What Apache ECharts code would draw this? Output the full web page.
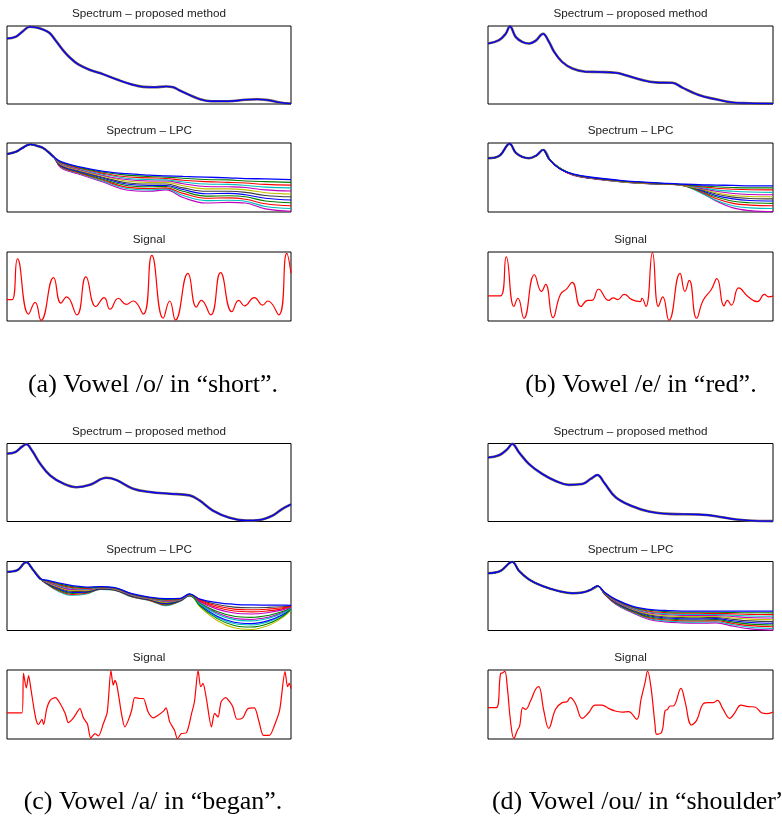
<!DOCTYPE html>
<html><head><meta charset="utf-8">
<script src="https://cdn.jsdelivr.net/npm/echarts@6/dist/echarts.min.js"></script>
<style>html,body{margin:0;padding:0;background:#fff}#c{width:782px;height:819px}</style>
</head><body><div id="c"></div>
<script>
// ---------- captions & titles ----------
const captions = ['(a) Vowel /o/ in \u201cshort\u201d.', '(b) Vowel /e/ in \u201cred\u201d.', '(c) Vowel /a/ in \u201cbegan\u201d.', '(d) Vowel /ou/ in \u201cshoulder\u201d.'];
const subTitles = ['Spectrum \u2013 proposed method', 'Spectrum \u2013 LPC', 'Signal'];

// ---------- (a) ----------
const aPropX = [0, 3, 5.5, 8, 10.5, 13, 15, 17, 19.5, 22, 25, 29, 34, 39, 44, 48, 52, 56, 58.5, 61, 64, 68, 72, 78, 84, 88, 92, 96, 100];
const aPropY = [84, 86, 93, 99, 98, 95, 91, 82, 70, 60, 51, 44, 38, 31, 25, 22, 21.5, 22.5, 21.5, 17, 12, 6, 3.5, 3.5, 5.5, 6, 5, 2, 0.5];
const aLpcHeadX = [0, 3, 5.5, 8.2, 10.5, 13, 16.4];
const aLpcHeadY = [84, 87, 93, 98, 96, 92, 80];
const aLpcTailX = [19, 26, 34, 42, 50, 56, 62, 70, 78, 84, 91, 100];
const aLpcTails = [
  [73, 65, 59, 55.5, 53.5, 52.5, 51.5, 50.5, 49.5, 48.5, 48, 47],
  [72, 64, 57.5, 53.5, 51.5, 50.5, 49, 47, 46.5, 45, 44, 43],
  [71.5, 63, 56, 51, 49.5, 48.5, 46, 44, 43, 42, 40, 39],
  [70.5, 62, 54.5, 49, 47, 46.5, 43.5, 40.5, 40, 38.5, 36, 35],
  [70, 61, 53, 47, 45, 45, 41, 37, 36.5, 35.5, 32, 30.5],
  [69, 60, 52, 45, 43, 43, 38, 33.5, 33.5, 32, 28, 26],
  [68, 59, 50, 42.5, 40.5, 40.5, 35, 30, 30, 28.5, 24, 22],
  [67, 58, 49, 40.5, 38.5, 38.5, 32.5, 26.5, 27, 25, 20, 17.5],
  [66.5, 57, 47, 38.5, 36.5, 37, 30, 23, 23.5, 22, 16, 13.5],
  [65.5, 56, 46, 36, 34, 35, 27, 20, 20.5, 18.5, 12, 9],
  [65, 55, 44.5, 34, 32, 33.5, 24, 16.5, 17, 15.5, 8, 5],
  [64, 54, 43, 32, 30, 32, 21, 13, 14, 13, 4.5, 1]
];
const aSigX = [0, 1.8, 3.7, 7.6, 9.9, 12, 16.4, 19, 21, 24.6, 27.8, 31.3, 34.2, 36.3, 39.2, 42, 44.4, 48, 51, 55, 57.3, 59.3, 63.7, 66.7, 68.4, 71.7, 75.2, 79.2, 81.6, 83.6, 87.1, 90, 91.8, 95.7, 98.5, 100];
const aSigY = [31, 31, 90, 10, 27, 1, 63, 26, 35, 9, 64, 21, 34, 17, 33, 24, 29, 10, 95, 4, 29, 1.5, 69, 20, 30, 9, 70, 13.5, 30, 22, 34, 23, 29, 9, 98, 69];

// ---------- (b) ----------
const bPropX = [0, 3.9, 6.2, 7.7, 9.7, 12, 14.4, 16.7, 19.3, 21.4, 23.2, 26, 29.6, 34.3, 39, 44.8, 48.3, 54.2, 58.8, 64.7, 68.2, 74, 80, 85.7, 91.6, 100];
const bPropY = [77.5, 82, 90, 99.5, 86, 79.6, 77.5, 81, 90, 79.6, 67, 54, 45.5, 41.3, 41, 40, 37, 30.6, 27.7, 27.2, 21, 11.5, 6, 2, 1, 0.5];
const bLpcHeadX = [0, 4, 7.6, 9.7, 12, 14.4, 17, 19.3, 21.4];
const bLpcHeadY = [78, 81.5, 99, 86, 80, 78, 82, 90, 77];
const bLpcTailX = [25, 30, 37, 47, 56, 63, 68, 74, 80, 86, 92, 100];
const bLpcTails = [
  [63, 55, 50, 45.5, 43, 41.5, 40.5, 39.5, 39, 38.5, 38, 38],
  [64, 54.5, 49.5, 45, 42.5, 41, 40, 38, 36.5, 35.5, 35, 35],
  [63.5, 54, 49, 44.5, 42, 40.5, 39.5, 37, 34.5, 33, 32.2, 32],
  [64, 54, 49, 44.5, 42, 40.5, 39.5, 36, 32, 30, 29, 28.5],
  [63.5, 54.5, 49.5, 45, 42.5, 41, 39.5, 35, 30, 26.7, 25.4, 25],
  [64, 54, 49, 44, 41.5, 40.5, 39, 34, 28, 24, 22.5, 22],
  [64.5, 54, 48.5, 44, 41.5, 40, 39.5, 33.5, 26, 21.5, 19.6, 19],
  [63.5, 53.5, 48.5, 44, 41.5, 40, 39.5, 32.5, 24, 19, 16.7, 16],
  [64, 54, 49, 44.5, 42, 40.5, 39, 31.5, 22, 15.5, 13.3, 12.5],
  [63.5, 53.5, 48.5, 44, 41.5, 40, 39, 30.5, 19.5, 12.5, 10, 9],
  [64, 53.5, 48.5, 43.5, 41, 40, 39, 29, 17, 9, 6, 5],
  [64, 53, 48, 43.5, 41, 40, 38.5, 30, 16, 6, 2, 0.5]
];
const bSigX = [0, 4.4, 6.4, 9.1, 10.5, 12.6, 16.3, 18.8, 20.2, 22.8, 25.4, 27.7, 29.5, 32.6, 35, 36.5, 38.8, 42.3, 44, 45.5, 47.8, 50.5, 53.4, 54, 55.4, 57.7, 59.8, 61.3, 63.5, 67.4, 69.1, 70.6, 73.2, 75.5, 78.4, 80.3, 82.8, 84, 85.4, 88, 91.3, 94.5, 97, 98.5, 100];
const bSigY = [36.5, 36.5, 93, 21, 33, 4, 67, 43, 53, 5, 38.5, 47, 56, 21, 30, 30, 46, 30, 33.5, 31, 38.5, 31, 28, 33, 21, 99, 21, 35, 1, 69, 43, 59, 4, 30, 46, 61.5, 22, 30, 23, 48, 35, 28, 38.5, 35, 36];

// ---------- (c) ----------
const cPropX = [0, 2.9, 5.3, 6.8, 8.8, 11.7, 15.2, 19.9, 24.6, 29.2, 35, 38.6, 44.4, 50.3, 57.3, 64.3, 67.8, 72.5, 78.4, 84.2, 88.9, 93.6, 97, 100];
const cPropY = [87, 89, 96, 99, 91, 74, 59, 48.5, 44, 47, 56, 53, 42, 37.8, 35.6, 33.5, 27, 14, 4.7, 1.3, 2, 7.7, 16.3, 22];
const cLpcHeadX = [0, 3.5, 6.8, 8.8, 11.7];
const cLpcHeadY = [85, 87, 99, 90, 75];
const cLpcTailX = [14, 18, 23, 28, 33, 38, 44, 50, 56, 61, 64.3, 68, 74, 80, 86, 92, 97, 100];
const cLpcTails = [
  [73, 69, 65, 63, 63.5, 62, 53.5, 48.5, 46, 46.5, 53, 45.5, 40.5, 38, 37, 36.8, 36.7, 36.5],
  [72.4, 67.8, 63.6, 62, 63.1, 61.6, 53, 48, 45, 46.1, 52.7, 35.2, 17.2, 7.3, 5, 10.1, 20.4, 30.6],
  [71.8, 66.6, 62.2, 61, 62.7, 61.2, 52.5, 47.5, 44, 45.7, 52.4, 43.4, 35.4, 31, 30, 31, 32.9, 34.8],
  [71.2, 65.4, 60.8, 60, 62.3, 60.8, 52, 47, 43, 45.3, 52.1, 38.1, 23.7, 15.8, 14, 17.6, 24.9, 32.1],
  [70.6, 64.2, 59.4, 59, 61.9, 60.4, 51.5, 46.5, 42, 44.9, 51.8, 41.4, 31, 25.3, 24, 26, 29.9, 33.8],
  [70, 63, 58, 58, 61.5, 60, 51, 46, 41, 44.5, 51.5, 34, 14.6, 3.9, 1.5, 7.2, 18.6, 30],
  [69.4, 61.8, 56.6, 57, 61.1, 59.6, 50.5, 45.5, 40, 44.1, 51.2, 44.4, 37.6, 33.9, 33, 33.5, 34.4, 35.3],
  [68.8, 60.6, 55.2, 56, 60.7, 59.2, 50, 45, 39, 43.7, 50.9, 36.8, 20.8, 12, 10, 14.3, 22.8, 31.4],
  [68.2, 59.4, 53.8, 55, 60.3, 58.8, 49.5, 44.5, 38, 43.3, 50.6, 39.8, 27.4, 20.6, 19, 21.8, 27.4, 33],
  [67.6, 58.2, 52.4, 54, 59.9, 58.4, 49, 44, 37, 42.9, 50.3, 42.4, 33.2, 28.2, 27, 28.5, 31.4, 34.3],
  [67, 57, 51, 53, 59.5, 58, 48.5, 43.5, 36, 42.5, 50, 36.1, 19.3, 10.1, 8, 12.6, 21.9, 31.1],
  [70.3, 63.6, 58.7, 58.5, 61.7, 60.2, 51.3, 46.3, 41.5, 44.7, 51.7, 38.8, 25.2, 17.7, 16, 19.3, 25.9, 32.5]
];
const cSigX = [0, 5.3, 5.8, 6.8, 7.6, 8.4, 9.4, 10.3, 11.1, 12.3, 12.9, 14, 15.2, 17, 18.7, 20.5, 21.6, 23.4, 25.7, 26.9, 28.3, 29.5, 31, 32.2, 33.9, 35.3, 36.6, 37.4, 38, 38.8, 40.4, 41.5, 42.7, 43.9, 45, 46.8, 48, 49.7, 51.5, 53.2, 55, 56, 57.3, 59, 60, 61.4, 63.2, 65, 66, 67.3, 68.2, 69, 70.2, 72, 73.1, 74.3, 75.4, 77, 78.4, 79.5, 81, 83, 84.8, 87.1, 88.7, 90.3, 92.4, 94.2, 96, 97.9, 98.8, 99.4, 100];
const cSigY = [38, 38, 95, 74, 92, 73, 46.6, 27, 21, 28.6, 21, 44, 56, 60, 51.5, 37, 23.8, 30.6, 44, 30.6, 22, 1.5, 7.8, 4.4, 22, 39, 99, 78, 85, 75.7, 34.5, 17.5, 27, 41.7, 60, 58.7, 58.7, 39, 30.6, 34.5, 40, 45, 24.8, 12.6, 0.5, 7.8, 9, 37, 54, 99, 75.7, 80.6, 58.7, 17.5, 37, 32, 54, 60, 54, 46.6, 28.6, 30.6, 44, 45, 25.7, 5.3, 5.3, 20, 41.7, 97.6, 75.7, 80.6, 73];

// ---------- (d) ----------
const dPropX = [0, 3.9, 6.8, 8.5, 10.9, 14.4, 19, 23.7, 28.4, 33, 36, 38.4, 40.7, 44.8, 50.6, 56.5, 63.5, 74, 80, 87, 95, 100];
const dPropY = [82, 85, 92.8, 99.5, 88.5, 73.6, 61, 52, 47, 48, 54.5, 59.6, 50, 31, 19.6, 12.8, 9.8, 9, 6.8, 2.6, 0.6, 0.5];
const dLpcHeadX = [0, 4.4, 8.5, 10.9, 14.4, 19, 24.9, 29.6, 33, 36, 38.4];
const dLpcHeadY = [83, 86.4, 99.5, 86.4, 74, 64.6, 57, 54, 55, 59, 64.6];
const dLpcTailX = [41, 44.8, 50.6, 56.5, 62, 68, 74, 80, 86, 92, 100];
const dLpcTails = [
  [55, 45, 35.4, 30.6, 29, 28, 28, 28, 28, 28, 28],
  [54.7, 44.4, 34.5, 29.3, 27.5, 26.5, 26.4, 26.4, 26, 25.7, 25.5],
  [54.5, 43.7, 33.7, 28, 26, 24.9, 24.9, 24.8, 24.1, 23.4, 23],
  [54.2, 43.1, 32.8, 26.7, 24.5, 23.4, 23.3, 23.3, 22.1, 21.1, 20.6],
  [53.9, 42.5, 31.9, 25.3, 23.1, 21.9, 21.7, 21.8, 20.2, 18.8, 18.1],
  [53.7, 41.9, 31, 24, 21.6, 20.4, 20.1, 20.3, 18.2, 16.5, 15.6],
  [53.4, 41.2, 30.1, 22.6, 19.9, 18.7, 18.4, 18.8, 16.1, 13.9, 12.9],
  [53.1, 40.5, 29.2, 21.3, 18.4, 17.1, 16.8, 17.2, 14.1, 11.6, 10.4],
  [52.8, 39.9, 28.3, 19.9, 17, 15.6, 15.2, 15.8, 12.2, 9.3, 7.9],
  [52.5, 39.3, 27.4, 18.6, 15.5, 14.1, 13.7, 14.2, 10.2, 7, 5.5],
  [52.3, 38.6, 26.6, 17.3, 14, 12.5, 12.1, 12.6, 8.3, 4.7, 3],
  [52, 38, 25.7, 16, 12.5, 11, 10.5, 11, 6.3, 2.4, 0.5]
];
const dSigX = [0, 2.9, 4.4, 5.2, 5.9, 6.8, 7.9, 9.1, 10.3, 11.1, 12.2, 13.2, 14.9, 16.7, 17.8, 19.6, 21.3, 23.7, 26, 27.7, 28.9, 30.7, 33, 35.3, 37.6, 40, 42.3, 44.6, 47, 49.3, 52.2, 53.7, 55.1, 56, 57.2, 58.6, 59.2, 61, 62.1, 63, 63.9, 65, 67.7, 69.1, 71.4, 73.2, 75.5, 77.3, 79, 80.5, 82.5, 84.8, 86.6, 88.7, 91.3, 93.6, 96, 97.7, 100];
const dSigY = [45.4, 45.4, 94.7, 96, 98.5, 74, 26, 0.8, 12.6, 19, 45.4, 43, 55, 72, 75.8, 40.6, 15.5, 43, 52.7, 54, 60, 51, 30, 38, 49, 49, 44.4, 40.6, 39, 39.6, 28.5, 57.5, 81.6, 98.5, 74.4, 21, 6.8, 10.6, 40.6, 43, 47.8, 47.8, 73.4, 55, 20.3, 27, 51, 52.7, 52.7, 56, 43, 30, 38, 49, 47, 46.4, 38, 36.7, 39];

// ---------- layout & style (not data) ----------
const lpcPalette = ['#0000ff', '#008000', '#ff0000', '#00bfbf', '#bf00bf', '#bfbf00', '#404040'];
const colLeft = [7, 488], colWidth = [284, 285];
const rowTops = [[26, 143, 252], [443.5, 561.5, 670]];
const rowHeights = [78, 69, 69];
const captionPos = [[153, 385], [641, 385], [153, 802], [643, 802]];

const panelData = [
  {prop: [aPropX, aPropY], lpc: [aLpcHeadX, aLpcHeadY, aLpcTailX, aLpcTails], sig: [aSigX, aSigY], sigSmooth: 0.5},
  {prop: [bPropX, bPropY], lpc: [bLpcHeadX, bLpcHeadY, bLpcTailX, bLpcTails], sig: [bSigX, bSigY], sigSmooth: 0.5},
  {prop: [cPropX, cPropY], lpc: [cLpcHeadX, cLpcHeadY, cLpcTailX, cLpcTails], sig: [cSigX, cSigY], sigSmooth: 0.25},
  {prop: [dPropX, dPropY], lpc: [dLpcHeadX, dLpcHeadY, dLpcTailX, dLpcTails], sig: [dSigX, dSigY], sigSmooth: 0.4}
];

const zip = (xs, ys) => xs.map((x, i) => [x, ys[i]]);
const grids = [], xAxes = [], yAxes = [], series = [], graphics = [];

function addBox(left, top, width, height, title, lines) {
  const gi = grids.length;
  grids.push({left, top, width, height, show: true, borderColor: '#000', borderWidth: 1, backgroundColor: '#fff'});
  xAxes.push({type: 'value', gridIndex: gi, min: 0, max: 100, show: false});
  yAxes.push({type: 'value', gridIndex: gi, min: 0, max: 100, show: false});
  lines.forEach(l => series.push({
    type: 'line', xAxisIndex: gi, yAxisIndex: gi, data: l.data, showSymbol: false, symbol: 'none',
    smooth: l.smooth, silent: true,
    lineStyle: {color: l.color, width: l.width}
  }));
  graphics.push({type: 'text', x: left + width / 2, y: top - 12, silent: true,
    style: {text: title, font: '11.7px "Liberation Sans", Arial, sans-serif', fill: '#222',
      textAlign: 'center', textVerticalAlign: 'middle', align: 'center', verticalAlign: 'middle'}});
}

panelData.forEach((p, k) => {
  const col = k % 2, row = Math.floor(k / 2);
  const L = colLeft[col], W = colWidth[col], T = rowTops[row];
  const propData = zip(p.prop[0], p.prop[1]);
  addBox(L, T[0], W, rowHeights[0], subTitles[0], [
    {data: propData, color: '#6e5650', width: 2.6, smooth: 0.4},
    {data: propData, color: '#0000ff', width: 1.3, smooth: 0.4}
  ]);
  const [hx, hy, tx, tails] = p.lpc;
  const lpcLines = [{data: zip(hx, hy), color: '#6e5650', width: 2.4, smooth: 0.4}];
  for (let i = tails.length - 1; i >= 0; i--) {
    lpcLines.push({data: zip(hx.concat(tx), hy.concat(tails[i])), color: lpcPalette[i % lpcPalette.length], width: i === 0 ? 1.3 : 1.1, smooth: 0.4});
  }
  addBox(L, T[1], W, rowHeights[1], subTitles[1], lpcLines);
  addBox(L, T[2], W, rowHeights[2], subTitles[2], [
    {data: zip(p.sig[0], p.sig[1]), color: '#ff0000', width: 1.2, smooth: p.sigSmooth}
  ]);
  graphics.push({type: 'text', x: captionPos[k][0], y: captionPos[k][1], silent: true,
    style: {text: captions[k], font: '26px "Liberation Serif", "Times New Roman", serif', fill: '#000',
      textAlign: 'center', textVerticalAlign: 'middle', align: 'center', verticalAlign: 'middle'}});
});

const chart = echarts.init(document.getElementById('c'), null, {renderer: 'canvas'});
chart.setOption({animation: false, backgroundColor: '#fff', grid: grids, xAxis: xAxes, yAxis: yAxes, series, graphic: {elements: graphics}});
</script></body></html>
